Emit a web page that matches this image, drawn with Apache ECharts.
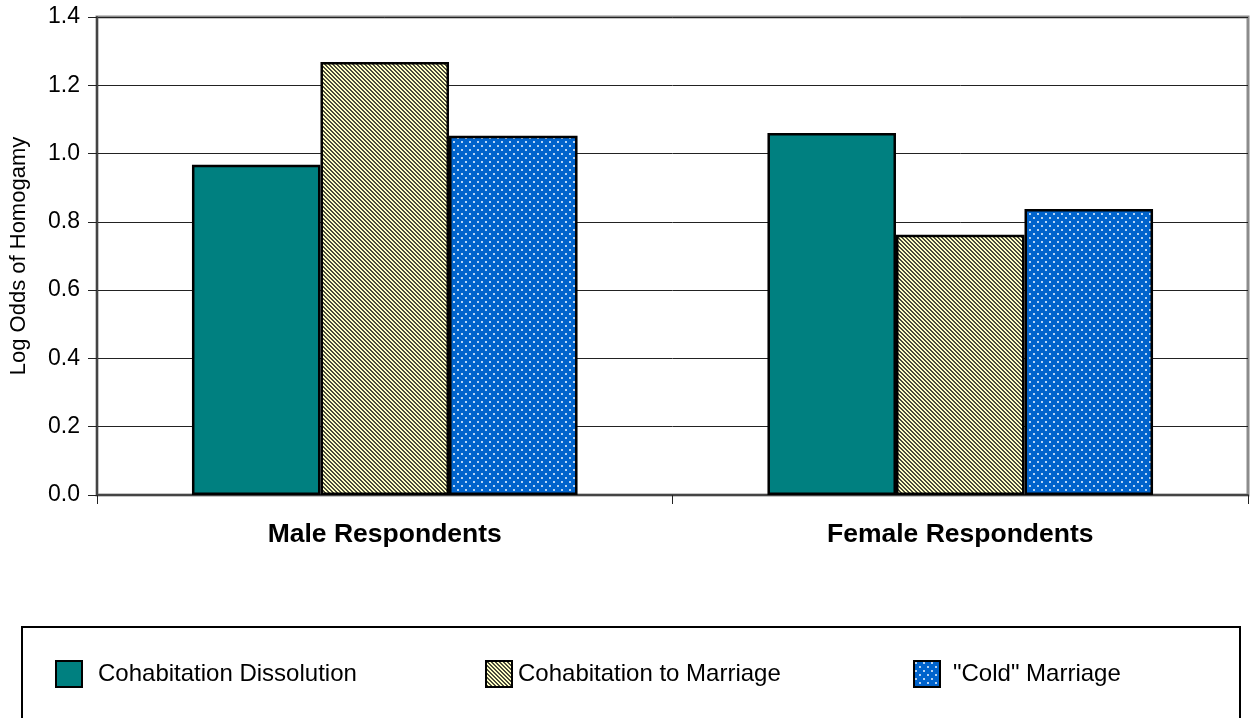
<!DOCTYPE html>
<html>
<head>
<meta charset="utf-8">
<script src="https://cdn.jsdelivr.net/npm/echarts@6/dist/echarts.min.js"></script>
<style>
  html, body { margin: 0; padding: 0; background: #fff; }
  #chart { width: 1252px; height: 718px; }
</style>
</head>
<body>
<div id="chart"></div>
<script>
// Log odds of homogamy by respondent sex and union outcome
const categories = ['Male Respondents', 'Female Respondents'];
const seriesNames = ['Cohabitation Dissolution', 'Cohabitation to Marriage', '"Cold" Marriage'];
const dissolution = [0.967, 1.060];
const toMarriage = [1.268, 0.762];
const coldMarriage = [1.052, 0.838];
const yTicks = { min: 0, max: 1.4, interval: 0.2 };

// Diagonal hatch fill (light yellow with dark stripes)
function hatchPattern() {
  const c = document.createElement('canvas');
  c.width = 4; c.height = 4;
  const ctx = c.getContext('2d');
  ctx.fillStyle = '#FFFFC4';
  ctx.fillRect(0, 0, 4, 4);
  ctx.fillStyle = '#4a4a3a';
  for (let y = 0; y < 4; y++) {
    for (let x = 0; x < 4; x++) {
      const d = ((x - y) % 4 + 4) % 4;
      if (d < 2) ctx.fillRect(x, y, 1, 1);
    }
  }
  return { image: c, repeat: 'repeat' };
}

// Blue fill with small light dots on a staggered grid
function dotPattern() {
  const c = document.createElement('canvas');
  c.width = 8; c.height = 8;
  const ctx = c.getContext('2d');
  ctx.fillStyle = '#0063CC';
  ctx.fillRect(0, 0, 8, 8);
  ctx.fillStyle = '#b6d4f4';
  ctx.fillRect(1, 1, 2, 2);
  ctx.fillRect(5, 5, 2, 2);
  return { image: c, repeat: 'repeat' };
}

const fills = ['#008080', hatchPattern(), dotPattern()];
const values = [dissolution, toMarriage, coldMarriage];

const font = 'Liberation Sans, Arial, sans-serif';
const legendLefts = [55, 485, 913];
const legendTextPad = [16, 6, 13];

const chart = echarts.init(document.getElementById('chart'), null, { renderer: 'canvas' });
chart.setOption({
  animation: false,
  backgroundColor: '#fff',
  grid: {
    left: 97, right: 4, top: 17, bottom: 223,
    show: true, borderColor: '#8c8c8c', borderWidth: 3, backgroundColor: 'transparent'
  },
  legend: seriesNames.map((name, i) => ({
    data: [name],
    left: legendLefts[i],
    top: 660,
    icon: 'rect',
    itemWidth: 26,
    itemHeight: 26,
    itemGap: 0,
    padding: 0,
    textStyle: { fontFamily: font, fontSize: 24, color: '#000', padding: [0, 0, 0, legendTextPad[i] - 5] },
    selectedMode: false
  })),
  graphic: [{
    type: 'rect',
    shape: { x: 22, y: 627, width: 1218, height: 120 },
    style: { fill: 'transparent', stroke: '#000', lineWidth: 2 },
    silent: true
  }],
  xAxis: {
    type: 'category',
    data: categories,
    axisLine: { lineStyle: { color: '#444', width: 2 } },
    axisTick: { show: true, length: 9, lineStyle: { color: '#222', width: 1 } },
    axisLabel: { fontFamily: font, fontSize: 26.5, fontWeight: 'bold', color: '#000', margin: 26 }
  },
  yAxis: {
    type: 'value',
    min: yTicks.min, max: yTicks.max, interval: yTicks.interval,
    name: 'Log Odds of Homogamy',
    nameLocation: 'middle',
    nameGap: 67,
    nameTextStyle: { fontFamily: font, fontSize: 22, color: '#000' },
    axisLine: { show: true, lineStyle: { color: '#444', width: 2 } },
    axisTick: { show: true, length: 9, lineStyle: { color: '#222', width: 1 } },
    axisLabel: { fontFamily: font, fontSize: 23, color: '#000', margin: 17,
      formatter: v => v.toFixed(1) },
    splitLine: { show: true, lineStyle: { color: '#222', width: 1 } }
  },
  series: seriesNames.map((name, i) => ({
    name,
    type: 'bar',
    data: values[i],
    barGap: '0%',
    barCategoryGap: '33%',
    itemStyle: { color: fills[i], borderColor: '#000', borderWidth: 2.5 }
  }))
});
</script>
</body>
</html>
